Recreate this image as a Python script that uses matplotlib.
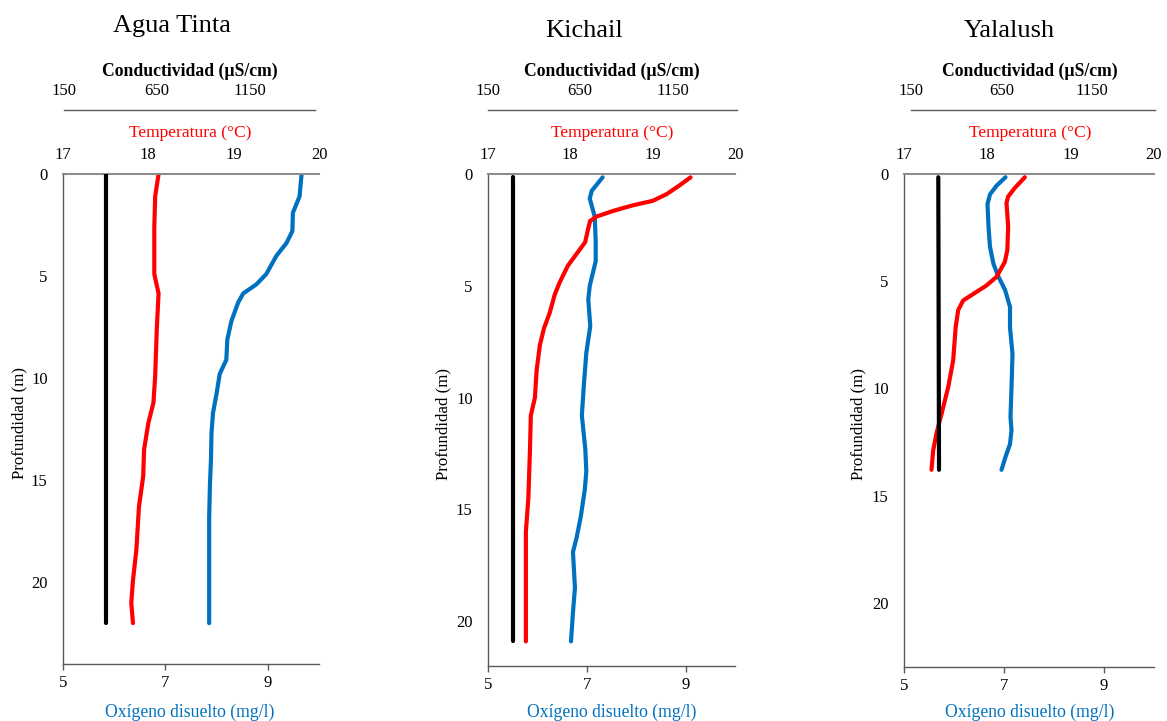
import matplotlib
matplotlib.use("Agg")
import matplotlib.pyplot as plt

plt.rcParams['font.family'] = ['Liberation Serif', 'DejaVu Serif']

# ---------------- data ----------------
sites = ["Agua Tinta", "Kichail", "Yalalush"]

# Agua Tinta
at_o2_depth = [0, 1.1, 1.9, 2.8, 3.4, 4.0, 4.9, 5.4, 5.85, 6.3, 7.2, 8.1, 9.1, 9.8, 10.75, 11.7, 12.7, 14.0, 15.2, 16.8, 22.0]
at_o2 = [9.66, 9.62, 9.49, 9.48, 9.36, 9.17, 8.97, 8.78, 8.52, 8.42, 8.29, 8.21, 8.19, 8.06, 8.0, 7.93, 7.90, 7.89, 7.87, 7.855, 7.855]
at_t_depth = [0, 1.1, 2.6, 4.9, 5.85, 7.5, 9.9, 11.2, 12.2, 13.5, 14.8, 16.3, 18.4, 19.9, 21.0, 22.0]
at_temp = [18.12, 18.08, 18.07, 18.07, 18.12, 18.10, 18.08, 18.06, 18.0, 17.95, 17.94, 17.89, 17.86, 17.82, 17.80, 17.82]
at_c_depth = [0, 22.0]
at_cond = [378, 378]

# Kichail
ki_o2_depth = [0.15, 0.75, 1.1, 1.9, 3.0, 3.9, 5.0, 5.6, 6.8, 8.0, 9.45, 10.8, 12.3, 13.3, 14.1, 15.3, 16.3, 16.9, 18.5, 19.6, 20.9]
ki_o2 = [7.32, 7.10, 7.06, 7.16, 7.18, 7.18, 7.06, 7.03, 7.07, 6.99, 6.94, 6.90, 6.97, 6.99, 6.96, 6.88, 6.79, 6.72, 6.76, 6.72, 6.68]
ki_t_depth = [0.15, 0.5, 0.9, 1.2, 1.4, 1.65, 1.9, 2.1, 2.55, 3.05, 3.5, 4.1, 4.85, 5.4, 6.2, 6.9, 7.65, 8.8, 10.0, 10.8, 12.3, 14.5, 16.0, 20.9]
ki_temp = [19.46, 19.33, 19.17, 19.0, 18.76, 18.52, 18.32, 18.24, 18.21, 18.18, 18.09, 17.97, 17.87, 17.81, 17.75, 17.68, 17.63, 17.59, 17.57, 17.52, 17.51, 17.49, 17.46, 17.46]
ki_c_depth = [0.15, 20.9]
ki_cond = [286, 286]

# Yalalush
ya_o2_depth = [0.15, 0.55, 0.95, 1.4, 2.45, 3.4, 4.2, 4.8, 5.4, 6.2, 7.15, 8.4, 9.95, 11.35, 11.95, 12.6, 13.2, 13.8]
ya_o2 = [7.03, 6.85, 6.72, 6.67, 6.69, 6.72, 6.79, 6.89, 7.02, 7.12, 7.12, 7.17, 7.15, 7.13, 7.15, 7.12, 7.03, 6.95]
ya_t_depth = [0.15, 0.65, 1.05, 1.35, 2.45, 3.55, 4.1, 4.8, 5.2, 5.6, 5.9, 6.35, 7.15, 8.7, 9.95, 11.2, 12.1, 12.9, 13.8]
ya_temp = [18.45, 18.33, 18.25, 18.23, 18.25, 18.24, 18.21, 18.11, 17.99, 17.83, 17.71, 17.65, 17.62, 17.59, 17.53, 17.45, 17.39, 17.35, 17.33]
ya_c_depth = [0.15, 13.8]
ya_cond = [301, 305]

o2_ticks = [5, 7, 9]
temp_ticks = [17, 18, 19, 20]
cond_ticks = [150, 650, 1150]
depth_ticks = [0, 5, 10, 15, 20]
depth_max = [24, 22, 23]

panel_data = [
    (at_o2_depth, at_o2, at_t_depth, at_temp, at_c_depth, at_cond),
    (ki_o2_depth, ki_o2, ki_t_depth, ki_temp, ki_c_depth, ki_cond),
    (ya_o2_depth, ya_o2, ya_t_depth, ya_temp, ya_c_depth, ya_cond),
]

# ---------------- layout (pixels) ----------------
W, H = 1167, 721
fig = plt.figure(figsize=(W / 100, H / 100), dpi=100)

main_box = [(63, 319, 174, 664), (488, 735, 174, 666), (904, 1154, 174, 667)]
cond_box = [(64, 315), (488, 737), (911, 1155)]
title_pos = [(172, 31.7), (584, 37.3), (1009, 37.3)]
label_cx = [190, 612, 1030]
ylabel_x = [19, 443, 858]

RED = '#FF0000'
BLUE = '#0070C0'
DARK = '#595959'
LIGHT = '#8C8C8C'
LW = 3.0


def fx(px):
    return px / W


def fy(py):
    return 1 - py / H


for i, (site, box, cbox, data) in enumerate(zip(sites, main_box, cond_box, panel_data)):
    l, r, t, b = box
    o2_d, o2_v, t_d, t_v, c_d, c_v = data
    rect = [fx(l), fy(b), (r - l) / W, (b - t) / H]

    # oxygen axis (main, bottom)
    ax = fig.add_axes(rect)
    ax.plot(o2_v, o2_d, color=BLUE, lw=LW, solid_capstyle='round', solid_joinstyle='round')
    ax.set_xlim(5, 10)
    ax.set_ylim(depth_max[i], 0)
    ax.set_xticks(o2_ticks)
    ax.set_yticks(depth_ticks)
    ax.tick_params(axis='x', direction='out', length=4, width=1, color=DARK, pad=4, labelsize=12)
    ax.tick_params(axis='y', length=0, pad=11, labelsize=12)
    for s in ['top', 'right']:
        ax.spines[s].set_visible(False)
    for s in ['left', 'bottom']:
        ax.spines[s].set_color(DARK)
        ax.spines[s].set_linewidth(1)
    ax.patch.set_visible(False)

    # temperature axis (top)
    axt = ax.twiny()
    axt.plot(t_v, t_d, color=RED, lw=LW, solid_capstyle='round', solid_joinstyle='round')
    axt.set_xlim(17, 20)
    axt.set_ylim(depth_max[i], 0)
    axt.set_xticks(temp_ticks)
    axt.tick_params(axis='x', length=0, pad=8, labelsize=12)
    for s in ['bottom', 'left', 'right']:
        axt.spines[s].set_visible(False)
    axt.spines['top'].set_color(LIGHT)
    axt.spines['top'].set_linewidth(1.5)

    # conductivity axis (top, offset)
    axc = fig.add_axes([fx(cbox[0]), fy(b), (cbox[1] - cbox[0]) / W, (b - t) / H])
    axc.patch.set_visible(False)
    axc.plot(c_v, c_d, color='black', lw=LW, solid_capstyle='round')
    axc.set_xlim(150, 1500)
    axc.set_ylim(depth_max[i], 0)
    axc.set_xticks(cond_ticks)
    axc.xaxis.set_ticks_position('top')
    axc.xaxis.set_label_position('top')
    axc.tick_params(axis='x', length=0, pad=8, labelsize=12)
    axc.set_yticks([])
    for s in ['bottom', 'left', 'right']:
        axc.spines[s].set_visible(False)
    axc.spines['top'].set_position(('outward', (t - 110) * 0.72))
    axc.spines['top'].set_color(DARK)
    axc.spines['top'].set_linewidth(1)

    # texts
    fig.text(fx(title_pos[i][0]), fy(title_pos[i][1]), site, ha='center', va='baseline', fontsize=19)
    fig.text(fx(label_cx[i]), fy(76), 'Conductividad (µS/cm)', ha='center', va='baseline',
             fontsize=12.7, fontweight='bold')
    fig.text(fx(label_cx[i]), fy(137.3), 'Temperatura (°C)', ha='center', va='baseline',
             fontsize=12.6, color=RED)
    fig.text(fx(label_cx[i]), fy(716.5), 'Oxígeno disuelto (mg/l)', ha='center', va='baseline',
             fontsize=12.7, color=BLUE)
    fig.text(fx(ylabel_x[i]), fy((t + b) / 2 + 4), 'Profundidad (m)', ha='center', va='center',
             rotation=90, fontsize=12.2)

fig.savefig('out.png', dpi=100)
